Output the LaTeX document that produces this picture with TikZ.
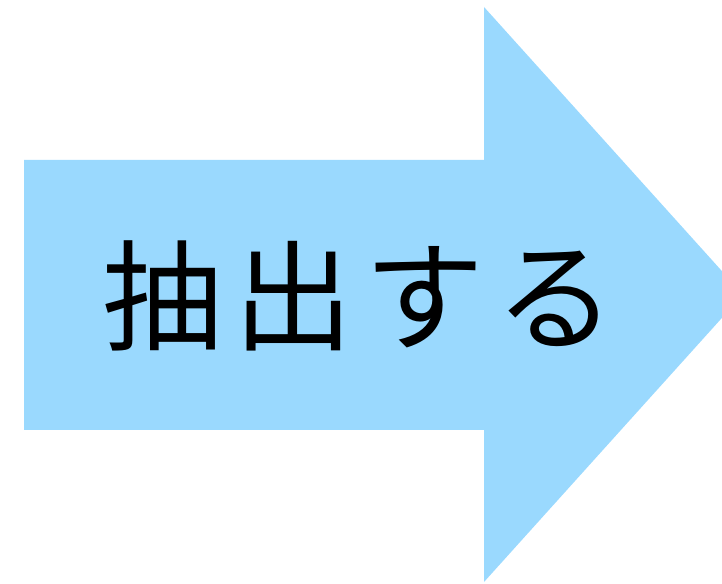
\documentclass[tikz,border=0pt]{standalone}
\usepackage{fontspec}
\newfontfamily\cjk[LetterSpace=9]{Noto Sans CJK JP}
\definecolor{arrowblue}{HTML}{9AD9FE}
\begin{document}
\begin{tikzpicture}[x=1pt,y=1pt,
  arrowfill/.style={fill=arrowblue,draw=none},
  label/.style={font=\cjk\fontsize{120}{120}\selectfont,inner sep=0pt}]
\useasboundingbox (0,0) rectangle (722,583);
\begin{scope}
\clip (0,0) rectangle (722,583);
\fill[arrowfill] (24,423) -- (484,423) -- (484,576) -- (743,288.5) -- (484,1) -- (484,153) -- (24,153) -- cycle;
\end{scope}
\node[label] (t) at (359,287) {抽出する};
\end{tikzpicture}
\end{document}
